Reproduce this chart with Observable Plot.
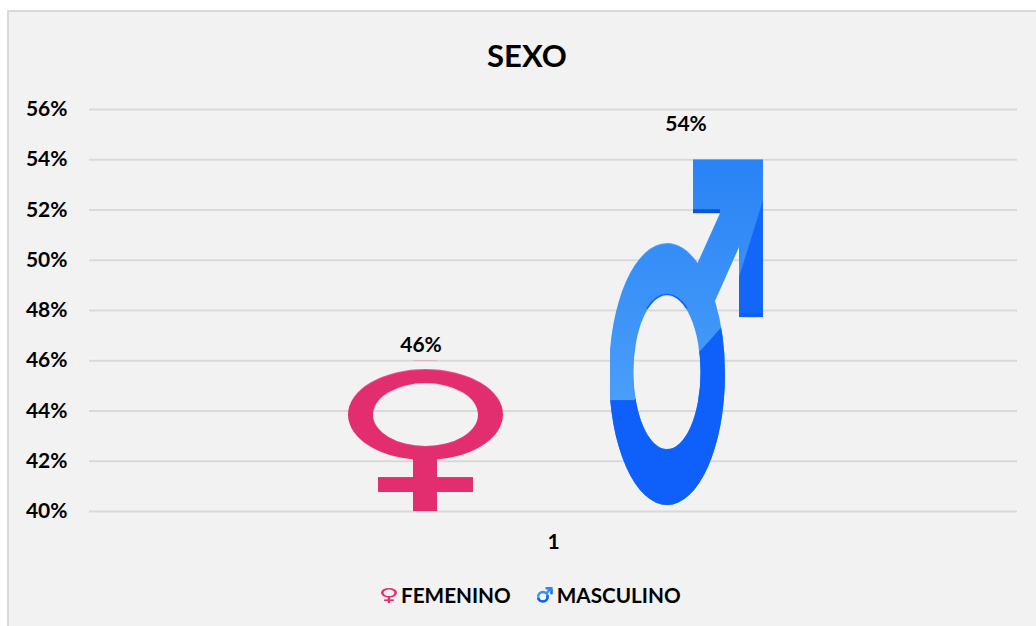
<!DOCTYPE html>
<html lang="es">
<head>
<meta charset="utf-8">
<script src="https://cdn.jsdelivr.net/npm/d3@7"></script>
<script src="https://cdn.jsdelivr.net/npm/@observablehq/plot@0.6"></script>
<style>
  html, body { margin: 0; padding: 0; background: #fff; width: 1036px; height: 626px; overflow: hidden; font-family: Lato, "Noto Sans", sans-serif; }
  #panel { position: absolute; left: 7px; top: 10px; width: 1029px; height: 616px; box-sizing: border-box; background: #f2f2f2; border-left: 2px solid #d9d9d9; border-top: 2px solid #d9d9d9; }
  #title { position: absolute; left: 0; top: 33px; width: 1054px; text-align: center; font-size: 31px; line-height: 44px; font-weight: 700; color: #000; margin: 0; }
  #chart { position: absolute; left: 0; top: 80px; }
  #legend { position: absolute; left: 381px; top: 578px; }
  #legend .lg-swatch { margin-right: 26px; }
  #legend .lg-swatch svg { margin-right: 4px; }
</style>
</head>
<body>
<div id="panel"></div>
<h1 id="title"></h1>
<div id="chart"></div>
<div id="legend"></div>
<script>
const chartTitle = "SEXO";
const groupLabels = ["1"];
const categories = ["FEMENINO", "MASCULINO"];
const values = [0.46, 0.54];
const yTicks = [0.40, 0.42, 0.44, 0.46, 0.48, 0.50, 0.52, 0.54, 0.56];
const baseline = 0.40;

const rows = categories.map((sexo, i) => ({group: groupLabels[0], sexo, value: values[i]}));
const pct = d3.format(".0%");

// Picture fills, stretched over each bar as the spreadsheet's picture fill is.
const pictureFills = () => d3.create("svg:defs").html(`
  <linearGradient id="maleLight" gradientUnits="userSpaceOnUse" x1="0" y1="0" x2="0" y2="250">
    <stop offset="0" stop-color="#2a83f6"/><stop offset="1" stop-color="#4a9ff8"/>
  </linearGradient>
  <clipPath id="maleShape">
    <path clip-rule="evenodd" d="M-1 215a58 131 0 1 0 116 0a58 131 0 1 0 -116 0ZM23.500 213a33.500 77 0 1 0 67 0a33.500 77 0 1 0 -67 0Z"/>
    <polygon points="83,-1 153,-1 153,158 129,158 129,88 104,144 87,105 110,54 83,54"/>
  </clipPath>
  <pattern id="fem" width="1" height="1" patternContentUnits="objectBoundingBox" viewBox="0 0 155 151" preserveAspectRatio="none">
    <path fill="#e22d6f" fill-rule="evenodd" d="M0 54.500a77.500 45.500 0 1 0 155 0a77.500 45.500 0 1 0 -155 0ZM25 54.500a52.500 31.500 0 1 0 105 0a52.500 31.500 0 1 0 -105 0Z"/>
    <rect fill="#e22d6f" x="65" y="95" width="24" height="56"/>
    <rect fill="#e22d6f" x="30" y="117" width="95" height="15"/>
  </pattern>
  <pattern id="mas" width="1" height="1" patternContentUnits="objectBoundingBox" viewBox="0 0 155 352" preserveAspectRatio="none">
    <g clip-path="url(#maleShape)">
      <rect x="-5" y="-5" width="165" height="360" fill="url(#maleLight)"/>
      <polygon fill="#0f5ffb" points="-5,241 24,241 91,191 115,164 115,360 -5,360"/>
      <polygon fill="#1466f7" points="129,118 153,41 160,41 160,165 129,165"/>
      <rect fill="#0a55d8" x="83" y="50" width="27" height="4"/>
      <rect fill="#0f5ffb" x="129" y="154" width="24" height="4"/>
      <path fill="none" stroke="#0f5ffb" stroke-width="4" d="M38 150A33.500 77 0 0 1 76 150"/>
    </g>
  </pattern>`).node();

const textStyle = {fontWeight: 700, fontSize: 21, fill: "#000"};

const plot = Plot.plot({
  width: 1036,
  height: 490,
  marginTop: 29,
  marginBottom: 59,
  marginLeft: 89,
  marginRight: 19,
  style: {background: "transparent", fontFamily: "Lato, 'Noto Sans', sans-serif"},
  fx: {domain: groupLabels, padding: 0},
  x: {domain: categories, paddingInner: 0.4084, paddingOuter: 0.975, align: 0.507, axis: null},
  y: {domain: [yTicks[0], yTicks[yTicks.length - 1]], axis: null},
  color: {type: "ordinal", domain: categories, range: ["url(#fem)", "url(#mas)"]},
  marks: [
    pictureFills,
    Plot.gridY(yTicks, {stroke: "#d9d9d9", strokeOpacity: 1, strokeWidth: 2}),
    Plot.barY(rows, {fx: "group", x: "sexo", y1: () => baseline, y2: "value", fill: "sexo"}),
    Plot.axisY({ticks: yTicks, tickFormat: pct, tickSize: 0, tickPadding: 22, label: null, ...textStyle}),
    Plot.axisFx({anchor: "bottom", tickSize: 0, tickPadding: 31, label: null, lineAnchor: "middle", ...textStyle}),
    Plot.text(rows.slice(0, 1), {fx: "group", x: "sexo", y: "value", text: d => pct(d.value), dy: -15, dx: -5, ...textStyle}),
    Plot.text(rows.slice(1), {fx: "group", x: "sexo", y: "value", text: d => pct(d.value), dy: -35, dx: -2, ...textStyle})
  ]
});

document.getElementById("title").textContent = chartTitle;
document.getElementById("chart").append(plot);
document.getElementById("legend").append(plot.legend("color", {
  swatchSize: 16,
  className: "lg",
  style: {fontSize: "20.700px", fontWeight: 700, color: "#000", fontFamily: "Lato, 'Noto Sans', sans-serif", background: "transparent"}
}));
</script>
</body>
</html>
